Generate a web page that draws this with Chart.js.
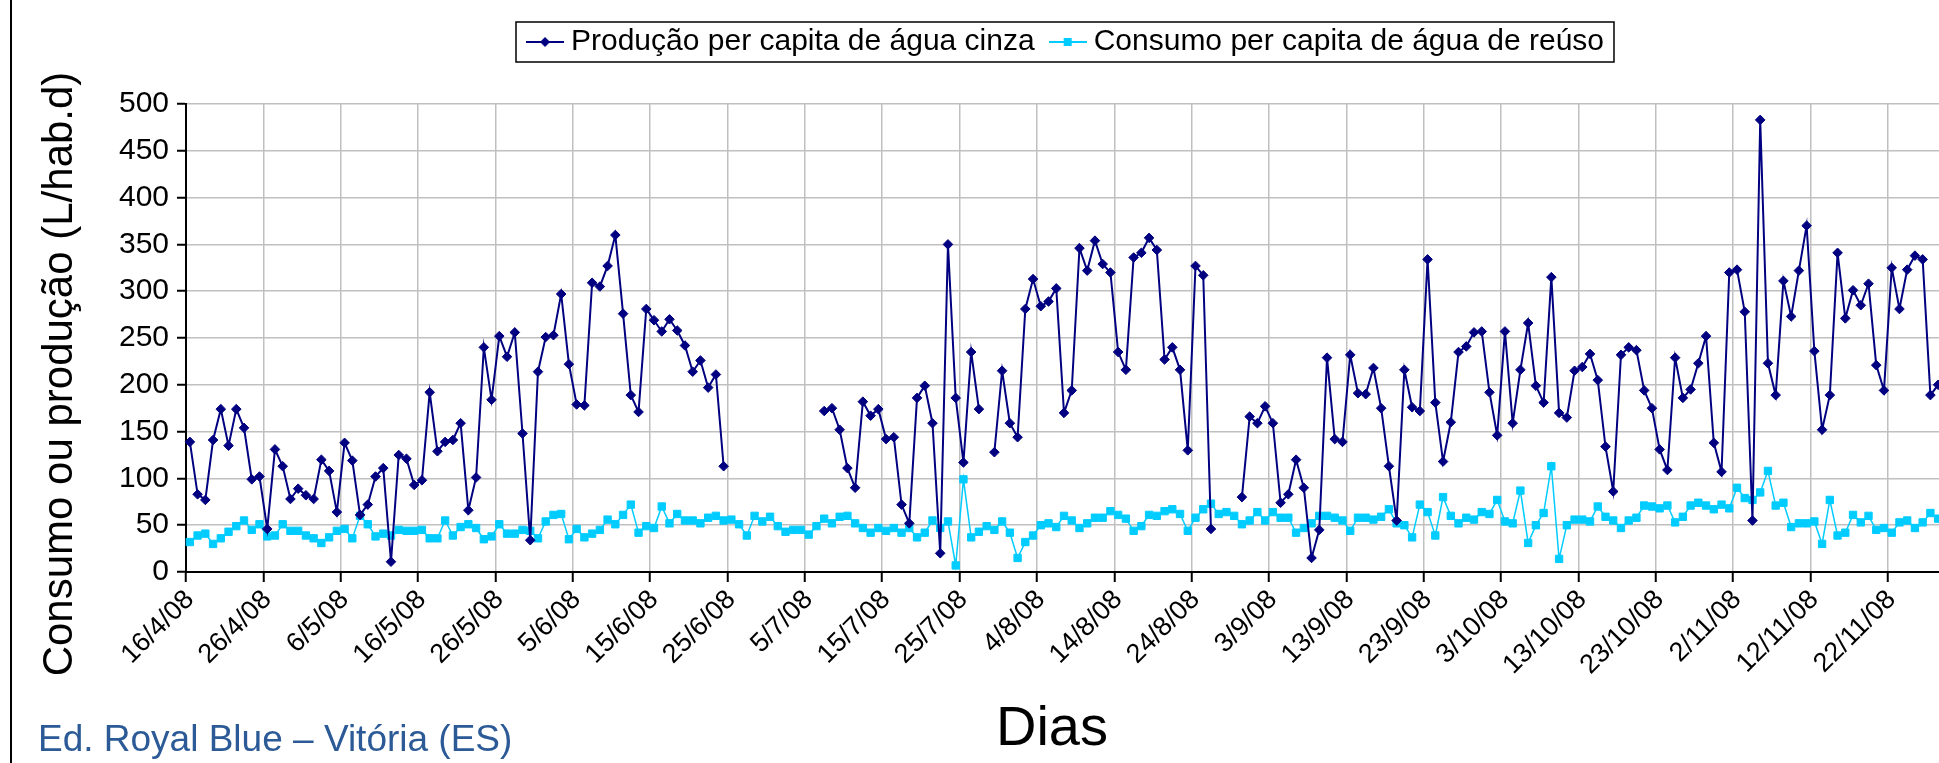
<!DOCTYPE html>
<html>
<head>
<meta charset="utf-8">
<script src="https://cdn.jsdelivr.net/npm/chart.js@4.4.1/dist/chart.umd.min.js"></script>
<style>
  html, body { margin: 0; padding: 0; background: #fff; overflow: hidden; }
  #wrap { position: relative; width: 1939px; height: 763px; overflow: hidden; }
  #box { position: absolute; left: 0; top: 0; width: 2138px; height: 763px; }
  #caption { position: absolute; left: 38px; top: 718px; font: 37px "Liberation Sans", Arial, sans-serif; color: #2b5a96; white-space: nowrap; }
</style>
</head>
<body>
<div id="wrap">
  <div id="box"><canvas id="myChart"></canvas></div>
  <div id="caption">Ed. Royal Blue – Vitória (ES)</div>
</div>
<script>
// Dados diários a partir de 16/4/08 (null = sem medição)
const startDay = [2008, 3, 16];
const seriesNames = [
  "Produção per capita de água cinza",
  "Consumo per capita de água de reúso",
];
const producao = [
  139, 83, 77, 141, 174, 135, 174, 154, 99, 102,
  46, 131, 113, 78, 89, 82, 78, 120, 108, 64,
  138, 119, 61, 72, 102, 111, 11, 125, 121, 93,
  98, 192, 129, 139, 141, 159, 66, 101, 240, 184,
  252, 230, 256, 148, 34, 214, 251, 253, 297, 222,
  179, 178, 309, 305, 327, 360, 276, 189, 171, 281,
  269, 257, 270, 258, 242, 214, 226, 197, 211, 113,
  null, null, null, null, null, null, null, null, null, null,
  null, null, 172, 175, 152, 111, 90, 182, 167, 174,
  142, 144, 72, 52, 186, 199, 159, 20, 350, 186,
  117, 235, 174, null, 128, 215, 159, 144, 281, 313,
  284, 289, 303, 170, 194, 346, 322, 354, 329, 320,
  235, 216, 336, 341, 357, 344, 227, 240, 216, 130,
  327, 317, 46, null, null, null, 80, 166, 159, 177,
  159, 74, 83, 120, 90, 15, 45, 229, 142, 139,
  232, 191, 190, 218, 175, 113, 55, 216, 176, 172,
  334, 181, 118, 160, 235, 241, 256, 257, 192, 146,
  257, 159, 216, 266, 199, 181, 315, 170, 165, 215,
  219, 233, 205, 134, 86, 232, 240, 237, 194, 175,
  131, 109, 229, 186, 195, 223, 252, 138, 107, 320,
  323, 278, 55, 483, 223, 189, 311, 273, 322, 370,
  236, 152, 189, 341, 271, 301, 285, 308, 221, 194,
  325, 281, 323, 338, 334, 189, 200,
];
const consumo = [
  32, 39, 41, 30, 36, 43, 49, 55, 45, 51,
  38, 39, 51, 44, 44, 39, 36, 31, 37, 44,
  46, 36, 60, 51, 38, 41, 39, 45, 44, 44,
  45, 36, 36, 55, 39, 48, 51, 47, 35, 38,
  51, 41, 41, 45, 44, 36, 54, 61, 62, 35,
  46, 37, 41, 45, 56, 51, 61, 72, 42, 49,
  47, 70, 52, 62, 55, 55, 52, 58, 60, 55,
  56, 51, 39, 60, 54, 59, 49, 43, 45, 45,
  40, 49, 57, 52, 59, 60, 52, 47, 42, 47,
  44, 47, 42, 47, 37, 42, 55, 47, 54, 7,
  99, 37, 43, 49, 45, 54, 42, 15, 32, 39,
  50, 52, 48, 60, 55, 47, 52, 58, 58, 65,
  61, 57, 44, 49, 61, 60, 65, 67, 62, 44,
  58, 67, 73, 62, 64, 60, 51, 55, 64, 55,
  64, 58, 58, 42, 47, 52, 60, 60, 58, 55,
  44, 58, 58, 56, 59, 67, 52, 50, 37, 72,
  64, 39, 80, 60, 52, 58, 56, 64, 62, 77,
  54, 52, 87, 31, 50, 63, 113, 14, 50, 56,
  56, 54, 70, 59, 55, 47, 55, 58, 71, 70,
  68, 71, 53, 59, 71, 74, 71, 67, 72, 68,
  90, 79, 77, 85, 108, 71, 74, 48, 52, 52,
  54, 30, 77, 39, 42, 61, 53, 60, 45, 47,
  42, 53, 55, 47, 53, 63, 57,
];
const yTicks = [0, 50, 100, 150, 200, 250, 300, 350, 400, 450, 500];
const labelEvery = 10;
const tituloY = "Consumo ou produção (L/hab.d)";
const tituloX = "Dias";

// rótulos das datas (d/m/aa)
const dias = [];
for (let i = 0; i < producao.length; i++) {
  const d = new Date(startDay[0], startDay[1], startDay[2] + i);
  dias.push(d.getDate() + "/" + (d.getMonth() + 1) + "/" + String(d.getFullYear()).slice(2));
}

const azul = "#000080";
const ciano = "#00CCFF";
const fonte = '"Liberation Sans", Arial, sans-serif';
Chart.defaults.font.family = fonte;
Chart.defaults.color = "#000";

// simbolo da legenda: linha com marcador no meio (estilo Excel)
function chaveLegenda(cor, tipo) {
  const c = document.createElement("canvas");
  c.width = 38;
  c.height = 14;
  const g = c.getContext("2d");
  g.strokeStyle = cor;
  g.lineWidth = 2;
  g.beginPath();
  g.moveTo(0, 7);
  g.lineTo(38, 7);
  g.stroke();
  g.fillStyle = cor;
  if (tipo === "diamond") {
    g.beginPath();
    g.moveTo(19, 2);
    g.lineTo(24, 7);
    g.lineTo(19, 12);
    g.lineTo(14, 7);
    g.closePath();
    g.fill();
  } else {
    g.fillRect(15, 3, 8, 8);
  }
  return c;
}
const chaves = [chaveLegenda(azul, "diamond"), chaveLegenda(ciano, "square")];

// moldura da legenda, borda esquerda e titulos dos eixos
const molduras = {
  id: "molduras",
  afterDraw(chart) {
    const ctx = chart.ctx;
    const area = chart.chartArea;
    const boxes = chart.legend.legendHitBoxes;
    ctx.save();
    ctx.strokeStyle = "#000";
    ctx.lineWidth = 1.5;
    if (boxes && boxes.length) {
      const a = boxes[0];
      const b = boxes[boxes.length - 1];
      ctx.strokeRect(a.left - 18, a.top - 5, b.left + b.width - a.left + 28, a.height + 10);
    }
    ctx.lineWidth = 2;
    ctx.beginPath();
    ctx.moveTo(11, 0);
    ctx.lineTo(11, chart.height);
    ctx.stroke();

    ctx.fillStyle = "#000";
    ctx.textAlign = "center";
    ctx.textBaseline = "middle";
    ctx.font = "42px " + fonte;
    ctx.save();
    ctx.translate(60, (area.top + area.bottom) / 2 + 36);
    ctx.rotate(-Math.PI / 2);
    ctx.fillText(tituloY, 0, 0);
    ctx.restore();
    ctx.font = "56px " + fonte;
    ctx.fillText(tituloX, (area.left + area.right) / 2 - 12, 730);
    ctx.restore();
  },
};

new Chart("myChart", {
  type: "line",
  data: {
    labels: dias,
    datasets: [
      {
        label: seriesNames[0],
        data: producao,
        borderColor: azul,
        backgroundColor: azul,
        borderWidth: 2,
        pointStyle: "rectRot",
        pointRadius: 4.8,
        pointBorderWidth: 1,
        spanGaps: false,
        tension: 0,
      },
      {
        label: seriesNames[1],
        data: consumo,
        borderColor: ciano,
        backgroundColor: ciano,
        borderWidth: 1.5,
        pointStyle: "rect",
        pointRadius: 5.2,
        pointBorderWidth: 1,
        tension: 0,
      },
    ],
  },
  options: {
    responsive: true,
    maintainAspectRatio: false,
    animation: false,
    layout: { padding: { top: 5, left: 0, right: 0, bottom: 0 } },
    plugins: {
      tooltip: { enabled: false },
      legend: {
        display: true,
        position: "top",
        labels: {
          usePointStyle: true,
          pointStyleWidth: 22,
          padding: 22,
          color: "#000",
          font: { size: 30 },
          generateLabels(chart) {
            const items = Chart.defaults.plugins.legend.labels.generateLabels(chart);
            items.forEach((it, i) => { it.pointStyle = chaves[i]; });
            return items;
          },
        },
      },
    },
    scales: {
      x: {
        type: "category",
        offset: true,
        grid: {
          offset: true,
          color: (c) => (c.index % labelEvery === 0 ? "#c0c0c0" : "rgba(0,0,0,0)"),
          tickColor: (c) => (c.index % labelEvery === 0 ? "#000" : "rgba(0,0,0,0)"),
          lineWidth: 1.5,
          tickWidth: 2,
          tickLength: 10,
        },
        border: { color: "#000", width: 2 },
        ticks: {
          autoSkip: false,
          minRotation: 45,
          maxRotation: 45,
          padding: 2,
          font: { size: 27 },
          color: "#000",
          callback: function (v, i) {
            return i % labelEvery === 0 ? this.getLabelForValue(v) : "";
          },
        },
        afterFit: (s) => { s.height = 191; },
      },
      y: {
        min: yTicks[0],
        max: yTicks[yTicks.length - 1],
        afterBuildTicks: (s) => { s.ticks = yTicks.map((v) => ({ value: v })); },
        grid: {
          color: "#c0c0c0",
          lineWidth: 1.5,
          tickColor: "#000",
          tickWidth: 2,
          tickLength: 9,
        },
        border: { color: "#000", width: 2 },
        ticks: { font: { size: 30 }, color: "#000", padding: 8 },
        afterFit: (s) => { s.width = 186; },
      },
      topo: {
        type: "category",
        position: "top",
        grid: { display: false },
        border: { display: false },
        ticks: { display: false },
        afterFit: (s) => { s.height = 37; },
      },
      direita: {
        type: "linear",
        position: "right",
        grid: { display: false },
        border: { display: false },
        ticks: { display: false },
        afterFit: (s) => { s.width = 196; },
      },
    },
  },
  plugins: [molduras],
});
</script>
</body>
</html>
